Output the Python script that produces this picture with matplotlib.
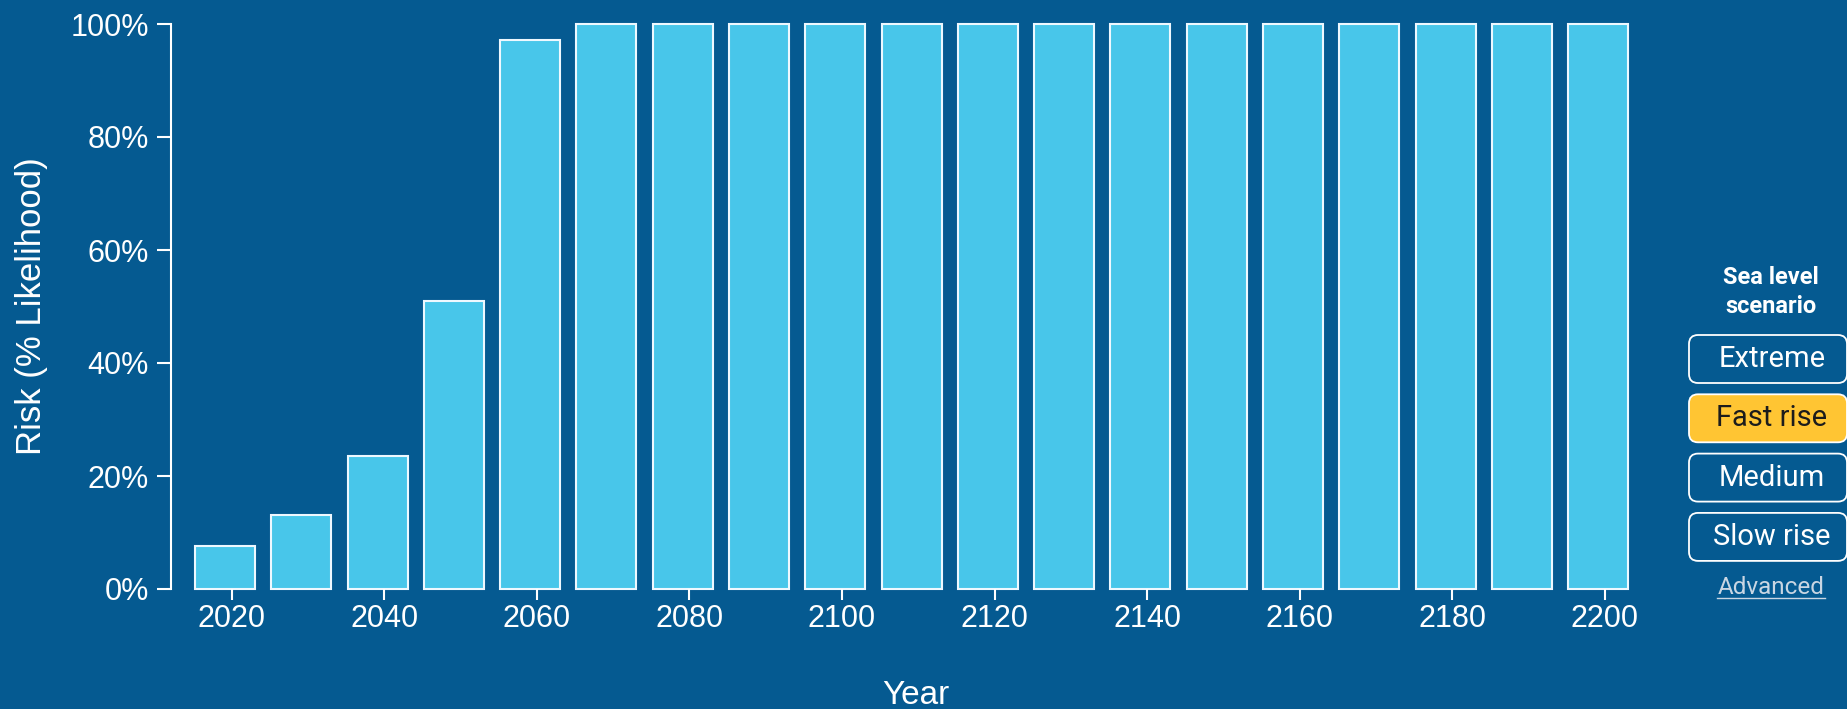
import matplotlib
matplotlib.use("Agg")
import matplotlib.pyplot as plt
from matplotlib.patches import FancyBboxPatch

# risk by decade, "Fast rise" scenario
years = [2020, 2030, 2040, 2050, 2060, 2070, 2080, 2090, 2100, 2110,
         2120, 2130, 2140, 2150, 2160, 2170, 2180, 2190, 2200]
risk = [7.6, 13.1, 23.5, 50.9, 97.2, 100, 100, 100, 100, 100,
        100, 100, 100, 100, 100, 100, 100, 100, 100]
xticks = list(range(2020, 2201, 20))
yticks = [0, 20, 40, 60, 80, 100]
scenarios = ["Extreme", "Fast rise", "Medium", "Slow rise"]
selected = "Fast rise"

bg = "#055a91"
bar_col = "#48c6ea"
W, H = 1847, 709

fig = plt.figure(figsize=(W / 100, H / 100), dpi=100)
fig.patch.set_facecolor(bg)

ax = fig.add_axes([171 / W, 120 / H, (1640 - 171) / W, 565 / H])
ax.set_facecolor(bg)

# bars sit a little left of their year tick, like in the original page
ax.bar([y - 0.88 for y in years], risk, width=7.86, color=bar_col,
       edgecolor="#eef8ff", linewidth=1.5, clip_on=False)

ax.set_xlim(2012.05, 2204.6)
ax.set_ylim(0, 100)
ax.set_xticks(xticks)
ax.set_xticklabels([str(x) for x in xticks])
ax.set_yticks(yticks)
ax.set_yticklabels(["%d%%" % v for v in yticks])

for s in ["top", "right", "bottom"]:
    ax.spines[s].set_visible(False)
ax.spines["left"].set_color("white")
ax.spines["left"].set_linewidth(1.5)
ax.tick_params(colors="white", width=1.5, labelsize=22)
ax.tick_params(axis="x", length=8, pad=3)
ax.tick_params(axis="y", length=10, pad=6)
for lab in ax.get_xticklabels() + ax.get_yticklabels():
    lab.set_family("Liberation Sans")

fig.text(916 / W, 1 - 704 / H, "Year", color="white", fontsize=24,
         family="Liberation Sans", ha="center", va="baseline")
fig.text(32 / W, 1 - 306 / H, "Risk (% Likelihood)", color="white",
         fontsize=25, family="Liberation Sans", ha="center", va="center",
         rotation=90)

# scenario selector on the right, drawn in pixel coords
ov = fig.add_axes([0, 0, 1, 1])
ov.set_xlim(0, W)
ov.set_ylim(H, 0)
ov.axis("off")
ov.patch.set_alpha(0)

ov.text(1771, 284, "Sea level", color="white", fontsize=17,
        fontweight="bold", family="Roboto", ha="center", va="baseline")
ov.text(1771, 313, "scenario", color="white", fontsize=17,
        fontweight="bold", family="Roboto", ha="center", va="baseline")

for i, name in enumerate(scenarios):
    top = 335 + i * 59.3
    on = name == selected
    box = FancyBboxPatch((1689, top), 158, 48,
                         boxstyle="round,pad=0,rounding_size=9",
                         facecolor="#ffc533" if on else bg,
                         edgecolor="white", linewidth=1.3, clip_on=False)
    ov.add_patch(box)
    ov.text(1772, top + 32, name, color="#1c1c1c" if on else "white",
            fontsize=21, family="Roboto", ha="center", va="baseline")

ov.text(1771, 594, "Advanced", color="#c9d6e3", fontsize=17.5,
        family="Roboto", ha="center", va="baseline")
ov.plot([1717, 1825], [598, 598], color="#c9d6e3", lw=1)

fig.savefig("out.png", dpi=100, facecolor=bg)
